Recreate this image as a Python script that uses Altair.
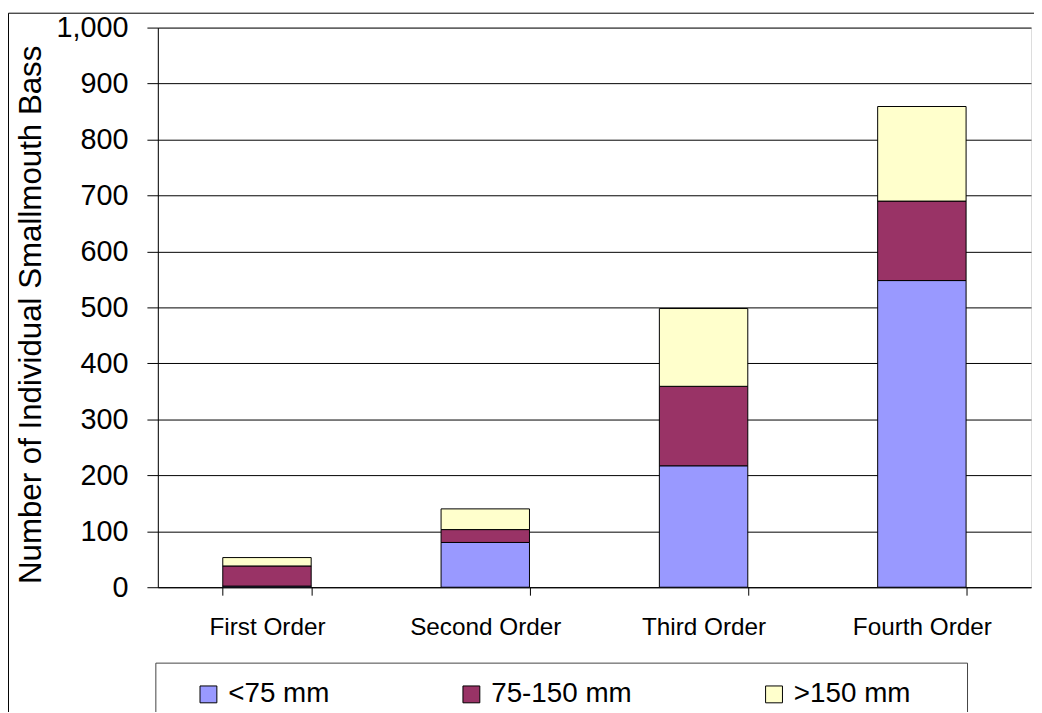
import altair as alt
import pandas as pd

categories = ["First Order", "Second Order", "Third Order", "Fourth Order"]
size_classes = ["<75 mm", "75-150 mm", ">150 mm"]
lt75 = [2, 80, 217, 548]
mid = [36, 23, 142, 142]
gt150 = [15, 37, 139, 169]
colors = ["#9999FF", "#993366", "#FFFFCC"]

rows = []
for i, c in enumerate(categories):
    for j, (name, vals) in enumerate(zip(size_classes, [lt75, mid, gt150])):
        rows.append({"order": c, "size": name, "count": vals[i], "k": j})
df = pd.DataFrame(rows)

FONT = "Liberation Sans"

bars = alt.Chart(df).mark_bar(stroke="black", strokeWidth=1).encode(
    x=alt.X("order:N", sort=categories, title=None,
            scale=alt.Scale(paddingInner=0.595, paddingOuter=0.2975),
            axis=alt.Axis(labelAngle=0, labelFontSize=24.5, labelFont=FONT, labelColor="black",
                          tickBand="extent", tickSize=8, tickColor="black", domainColor="black",
                          labelPadding=21, grid=False)),
    y=alt.Y("count:Q", stack="zero", title="Number of Individual Smallmouth Bass",
            scale=alt.Scale(domain=[0, 1000], nice=False),
            axis=alt.Axis(values=list(range(0, 1001, 100)), format=",d", labelFontSize=29,
                          labelFont=FONT, labelColor="black", tickSize=11, tickColor="black",
                          domainColor="black", labelPadding=19, gridColor="black",
                          titleFontSize=31.5, titleFont=FONT, titleFontWeight="normal",
                          titleColor="black", titleX=-111, titleY=289)),
    color=alt.Color("size:N", sort=size_classes,
                    scale=alt.Scale(domain=size_classes, range=colors),
                    legend=alt.Legend(title=None, orient="none", direction="horizontal",
                                      legendX=37, legendY=658, symbolType="square",
                                      symbolSize=289, symbolStrokeColor="black",
                                      symbolStrokeWidth=1, labelFontSize=28, labelFont=FONT,
                                      labelColor="black", labelOffset=6, columnPadding=129,
                                      padding=0)),
    order=alt.Order("k:Q"),
)

frame_df = pd.DataFrame({"a": [0]})
outer = alt.Chart(frame_df).mark_rect(filled=False, stroke="black", strokeWidth=1).encode(
    x=alt.value(-150.5), x2=alt.value(900), y=alt.value(-14.5), y2=alt.value(730))
legend_box = alt.Chart(frame_df).mark_rect(filled=False, stroke="#444444", strokeWidth=1).encode(
    x=alt.value(-2), x2=alt.value(816), y=alt.value(640.5), y2=alt.value(730))

chart = alt.layer(outer, legend_box, bars).properties(
    width=880, height=564,
    autosize=alt.AutoSizeParams(type="none"),
    padding={"left": 151, "top": 17, "right": 3, "bottom": 123},
).configure_view(stroke="#808080", strokeWidth=1).configure(background="white")

chart.save("out.html", embed_options={"renderer": "svg", "actions": False})
